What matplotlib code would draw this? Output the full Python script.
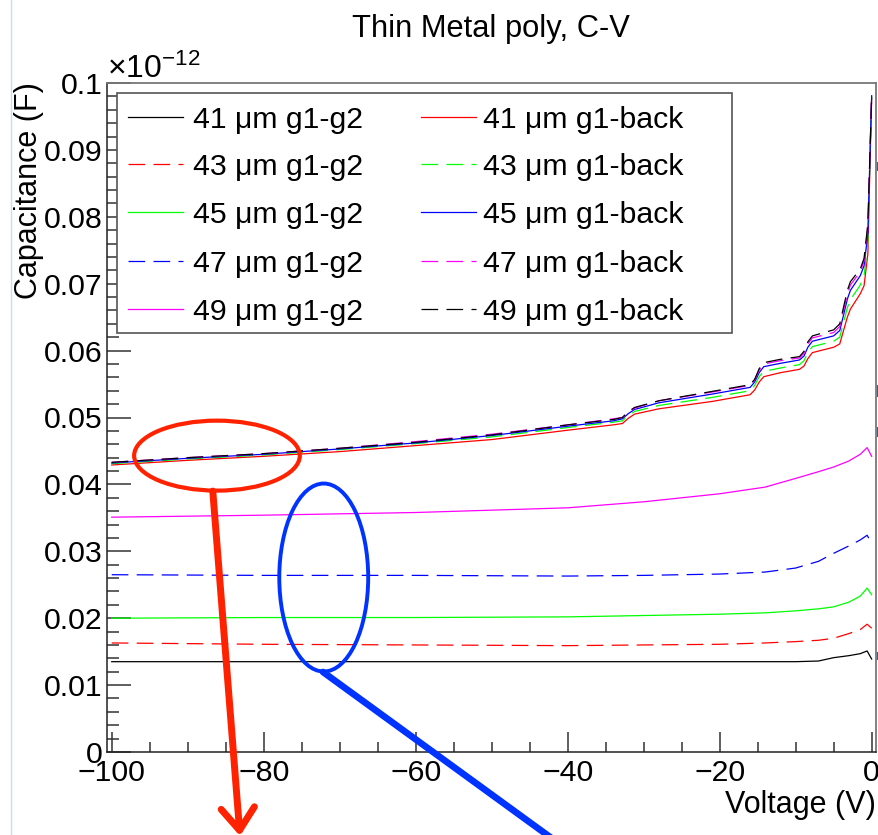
import matplotlib
matplotlib.use("Agg")
import matplotlib.pyplot as plt
from matplotlib.patches import Ellipse, Rectangle
from matplotlib.lines import Line2D
from matplotlib.ticker import MultipleLocator, FuncFormatter

plt.rcParams["font.family"] = ["Liberation Sans", "DejaVu Sans"]
plt.rcParams["mathtext.fontset"] = "custom"
plt.rcParams["mathtext.rm"] = "Liberation Sans"
plt.rcParams["mathtext.it"] = "Liberation Sans:italic"
plt.rcParams["lines.scale_dashes"] = False

# ---------------- data (capacitance in units of 1e-12 F) ----------------
# gate1 - gate2 sweeps
v_g1g2 = [-100, -80, -60, -40, -30, -20, -14, -10, -7, -5, -3, -1.5, -0.6, 0]
c41_g1g2 = [0.0135, 0.0135, 0.0135, 0.0135, 0.0135, 0.0135, 0.0135, 0.0135,
            0.0136, 0.0141, 0.0144, 0.0147, 0.0151, 0.0139]
c43_g1g2 = [0.0163, 0.0161, 0.0160, 0.0159, 0.0160, 0.0161, 0.0163, 0.0165,
            0.0167, 0.0170, 0.0177, 0.0183, 0.0191, 0.0185]
c45_g1g2 = [0.0200, 0.0201, 0.0201, 0.0202, 0.0204, 0.0206, 0.0208, 0.0211,
            0.0214, 0.0217, 0.0224, 0.0233, 0.0245, 0.0235]
c47_g1g2 = [0.0265, 0.0264, 0.0264, 0.0263, 0.0264, 0.0266, 0.0269, 0.0275,
            0.0285, 0.0297, 0.0308, 0.0317, 0.0324, 0.0312]
c49_g1g2 = [0.0351, 0.0354, 0.0358, 0.0365, 0.0374, 0.0386, 0.0396, 0.0409,
            0.0419, 0.0426, 0.0435, 0.0445, 0.0455, 0.0442]

# gate1 - backside sweeps
v_back = [-100, -90, -80, -70, -60, -50, -40, -34, -32.8, -32, -31.2, -28,
          -21, -16, -15.4, -14.8, -14.2, -12, -9.5, -8.9, -8.4, -7.8, -5,
          -4.2, -3.7, -3.2, -2.8, -1.5, -1, -0.5, -0.2, 0]
c41_back = [0.0429, 0.0436, 0.0442, 0.0449, 0.0458, 0.0467, 0.0481, 0.0489,
            0.0491, 0.0499, 0.0505, 0.0513, 0.0524, 0.0534, 0.0541, 0.0553,
            0.0561, 0.0567, 0.0572, 0.0577, 0.0588, 0.0597, 0.0605, 0.0610,
            0.0630, 0.0650, 0.0662, 0.0685, 0.0697, 0.0745, 0.0890, 0.0978]
c43_back = [0.0431, 0.0438, 0.0444, 0.0452, 0.0461, 0.0471, 0.0485, 0.0493,
            0.0495, 0.0503, 0.0509, 0.0518, 0.0530, 0.0540, 0.0548, 0.0561,
            0.0569, 0.0574, 0.0579, 0.0585, 0.0597, 0.0606, 0.0614, 0.0620,
            0.0642, 0.0664, 0.0676, 0.0698, 0.0712, 0.0760, 0.0895, 0.0980]
c45_back = [0.0432, 0.0439, 0.0445, 0.0453, 0.0462, 0.0473, 0.0487, 0.0495,
            0.0498, 0.0506, 0.0512, 0.0522, 0.0535, 0.0545, 0.0553, 0.0567,
            0.0576, 0.0581, 0.0586, 0.0592, 0.0605, 0.0614, 0.0622, 0.0630,
            0.0653, 0.0677, 0.0690, 0.0712, 0.0727, 0.0775, 0.0900, 0.0981]
c47_back = [0.0433, 0.0440, 0.0446, 0.0454, 0.0464, 0.0475, 0.0489, 0.0498,
            0.0500, 0.0508, 0.0514, 0.0525, 0.0538, 0.0548, 0.0556, 0.0571,
            0.0580, 0.0585, 0.0589, 0.0596, 0.0610, 0.0619, 0.0627, 0.0636,
            0.0660, 0.0684, 0.0698, 0.0718, 0.0734, 0.0785, 0.0903, 0.0982]
c49_back = [0.0433, 0.0440, 0.0446, 0.0454, 0.0463, 0.0474, 0.0489, 0.0497,
            0.0500, 0.0509, 0.0515, 0.0525, 0.0539, 0.0549, 0.0557, 0.0573,
            0.0582, 0.0587, 0.0591, 0.0599, 0.0613, 0.0622, 0.0631, 0.0640,
            0.0665, 0.0690, 0.0703, 0.0722, 0.0738, 0.0790, 0.0905, 0.0982]

labels = ["41 \u03bcm g1-g2", "43 \u03bcm g1-g2", "45 \u03bcm g1-g2",
          "47 \u03bcm g1-g2", "49 \u03bcm g1-g2",
          "41 \u03bcm g1-back", "43 \u03bcm g1-back", "45 \u03bcm g1-back",
          "47 \u03bcm g1-back", "49 \u03bcm g1-back"]
xs = [v_g1g2] * 5 + [v_back] * 5
ys = [c41_g1g2, c43_g1g2, c45_g1g2, c47_g1g2, c49_g1g2,
      c41_back, c43_back, c45_back, c47_back, c49_back]
colors = ["#000000", "#ff0000", "#00ff00", "#0000ff", "#ff00ff",
          "#ff0000", "#00ff00", "#0000ff", "#ff00ff", "#000000"]
dashed = [False, True, False, True, False, False, True, False, True, True]

x_ticks = [-100, -80, -60, -40, -20, 0]
y_ticks = [0, 0.01, 0.02, 0.03, 0.04, 0.05, 0.06, 0.07, 0.08, 0.09, 0.1]

# ---------------- figure ----------------
W, H = 879, 835
fig = plt.figure(figsize=(W / 100, H / 100), dpi=100)
ax = fig.add_axes([107 / W, 1 - 752 / H, (876 - 107) / W, (752 - 83) / H])

DASH = (0, (12, 6))
for x, y, c, d in zip(xs, ys, colors, dashed):
    ax.plot(x, y, color=c, lw=0.9, linestyle=DASH if d else "-")

ax.set_xlim(-100.62, 0.57)
ax.set_ylim(0, 0.1)
ax.set_xticks(x_ticks)
ax.set_yticks(y_ticks)
ax.xaxis.set_minor_locator(MultipleLocator(5))
ax.yaxis.set_minor_locator(MultipleLocator(0.002))
ax.yaxis.set_major_formatter(FuncFormatter(lambda v, p: "%g" % round(v, 4)))
ax.xaxis.set_major_formatter(FuncFormatter(lambda v, p: ("%g" % v).replace("-", "\u2212")))

ax.tick_params(axis="both", which="both", direction="in", top=False, right=False,
               color="#333333", width=1.1, labelsize=21.8)
ax.tick_params(axis="x", which="major", length=14.4, pad=5)
ax.tick_params(axis="x", which="minor", length=7.2)
ax.tick_params(axis="y", which="major", length=17, pad=3)
ax.tick_params(axis="y", which="minor", length=8.6)
for s in ("left", "bottom"):
    ax.spines[s].set_color("#222222")
    ax.spines[s].set_linewidth(1.1)
for s in ("top", "right"):
    ax.spines[s].set_color("#777777")
    ax.spines[s].set_linewidth(1.3)

# titles
fig.text(491 / W, 1 - 36.5 / H, "Thin Metal poly, C-V", ha="center", va="baseline",
         fontsize=22.2)
fig.text(876 / W, 1 - 813 / H, "Voltage (V)", ha="right", va="baseline", fontsize=22)
fig.text(29 / W, 1 - 82 / H, "Capacitance (F)", rotation=90, ha="center", va="top",
         fontsize=22)
fig.text(107 / W, 1 - 78 / H, r"$\times\mathregular{10^{-12}}$", ha="left",
         va="baseline", fontsize=23)

# legend box, drawn in figure pixels
def fx(px):
    return px / W


def fy(py):
    return 1 - py / H


fig.add_artist(Rectangle((fx(117), fy(333)), (732 - 117) / W, (333 - 93) / H,
                         transform=fig.transFigure, facecolor="white",
                         edgecolor="#555555", lw=1.2, zorder=5))
rows = [117, 164, 212, 261, 309]
cols = [(128, 183, 193), (421, 476, 483)]
for i, (lab, c, d) in enumerate(zip(labels, colors, dashed)):
    col = cols[i // 5]
    row = rows[i % 5]
    fig.add_artist(Line2D([fx(col[0]), fx(col[1])], [fy(row), fy(row)],
                          transform=fig.transFigure, color=c, lw=0.9,
                          linestyle=DASH if d else "-", zorder=6))
    fig.text(fx(col[2]), fy(row), lab, ha="left", va="center_baseline",
             fontsize=21.8, zorder=7)

# highlight ellipses and pointers
red_ann = "#ff2200"
blue_ann = "#0033ff"
ax.add_patch(Ellipse((-86.15, 0.0443), 21.8, 0.01046, fill=False,
                     edgecolor=red_ann, lw=3.0, clip_on=False, zorder=8))
ax.add_patch(Ellipse((-72.1, 0.02608), 11.7, 0.0281, fill=False,
                     edgecolor=blue_ann, lw=2.8, clip_on=False, zorder=8))
ax.annotate("", xy=(240, -1), xycoords="figure pixels",
            xytext=(-86.7, 0.0390), textcoords="data",
            arrowprops=dict(arrowstyle="->,head_length=0.8,head_width=0.6",
                            color=red_ann, lw=5, shrinkA=0, shrinkB=0,
                            mutation_scale=20),
            annotation_clip=False, zorder=8)
ax.annotate("", xy=(561, -10), xycoords="figure pixels",
            xytext=(-72.2, 0.01196), textcoords="data",
            arrowprops=dict(arrowstyle="-", color=blue_ann, lw=4.8,
                            shrinkA=0, shrinkB=0),
            annotation_clip=False, zorder=8)

# canvas border and edge markers
fig.add_artist(Line2D([fx(11.5), fx(11.5)], [0, 1], transform=fig.transFigure,
                      color="#bfe4ec", lw=1))
for y0, y1 in [(162, 171), (385, 397), (427, 437), (652, 660)]:
    fig.add_artist(Rectangle((fx(877), fy(y1)), 2 / W, (y1 - y0) / H,
                             transform=fig.transFigure, facecolor="#2f5f9f",
                             edgecolor="none"))

fig.savefig("out.png", dpi=100)
